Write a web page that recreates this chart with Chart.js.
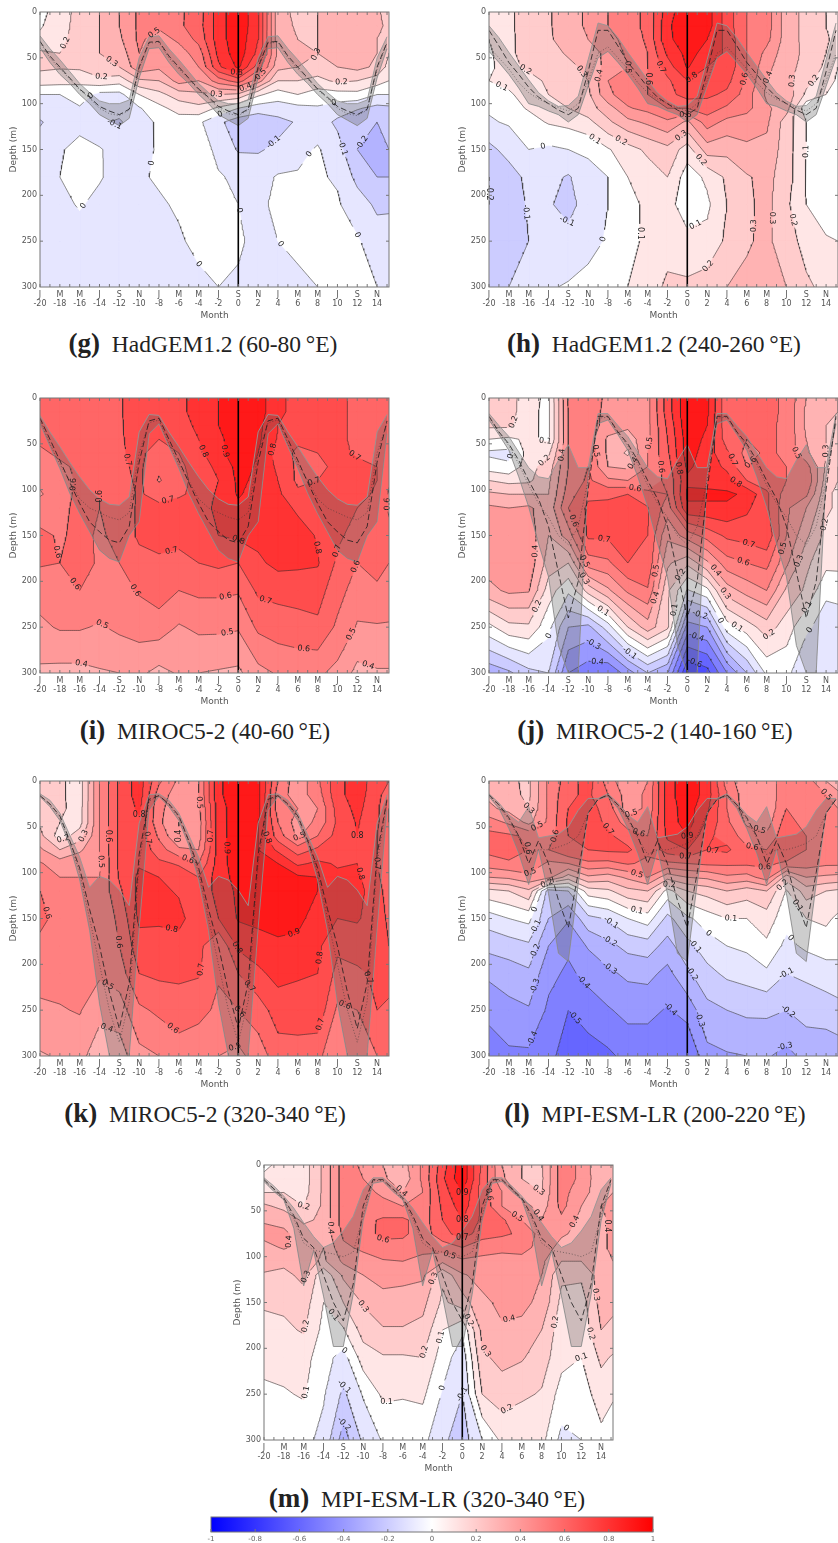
<!DOCTYPE html>
<html>
<head>
<meta charset="utf-8">
<script src="https://cdn.jsdelivr.net/npm/chart.js@4"></script>
<style>
  html, body { margin: 0; padding: 0; background: #fff; }
  #page { position: relative; width: 838px; height: 1543px; overflow: hidden; }
  canvas { position: absolute; filter: blur(0.4px); }
  .caption { position: absolute; width: 400px; text-align: center; font-family: "Liberation Serif", serif;
             font-size: 23.5px; line-height: 28px; color: #222; white-space: nowrap; }
  .caption b { font-size: 27px; }
</style>
</head>
<body>
<div id="page"></div>
<script>
// grid the anomaly fields were read on (month columns, depth rows)
const months = [-20, -18, -16, -14, -12, -10, -8, -6, -4, -2, 0, 2, 4, 6, 8, 10, 12, 14, 15.2];
const depths = [0, 15, 30, 45, 60, 75, 90, 105, 120, 150, 180, 210, 250, 300];
const monthLetters = ['J', 'M', 'M', 'J', 'S', 'N', 'J', 'M', 'M', 'J', 'S', 'N', 'J', 'M', 'M', 'J', 'S', 'N'];
const colorbarTicks = [-1, -0.8, -0.6, -0.4, -0.2, 0, 0.2, 0.4, 0.6, 0.8, 1];

// fields: one row per month column, values in hundredths
const g_field = [
  [8,9,12,22,22,15,0,-5,-11,-5,-5,-5,-5,-5],
  [13,15,17,20,21,14,0,-3,-5,-1,0,-3,-5,-6],
  [25,25,25,25,22,12,5,-1,-3,3,4,1,-5,-7],
  [30,30,30,30,28,17,-3,-7,-9,1,1,-3,-6,-7],
  [40,40,38,34,30,14,-3,-7,-11,-5,-4,-5,-6,-7],
  [52,52,52,50,47,28,10,-1,-5,-3,-1,-3,-5,-6],
  [50,52,45,45,42,30,17,7,2,1,1,-1,-4,-5],
  [58,58,52,45,47,44,25,14,5,2,2,1,-1,-4],
  [65,66,63,55,50,40,28,17,2,6,3,2,2,-2],
  [85,85,85,83,78,55,30,8,-8,-3,1,2,2,0],
  [98,98,97,96,92,65,28,0,-15,-11,-2,0,1,-1],
  [82,82,80,77,65,45,12,-5,-18,-11,-4,-2,-2,-3],
  [33,33,35,38,33,20,5,-5,-13,-8,1,2,0,-3],
  [28,29,30,32,30,20,10,-3,-9,-3,1,2,1,-1],
  [30,30,30,30,26,17,5,-1,-5,1,1,2,2,0],
  [33,33,33,32,30,22,6,-5,-12,-6,-1,1,2,1],
  [38,38,38,37,33,20,7,-9,-18,-20,-13,-5,1,2],
  [32,32,30,30,28,15,0,-13,-20,-22,-20,-12,-5,0],
  [25,28,28,20,16,10,0,-12,-17,-20,-20,-11,-7,-5]
];
const h_field = [
  [13,13,10,8,7,10,7,1,-1,-13,-20,-20,-15,-13],
  [18,18,18,18,17,12,9,6,1,-6,-15,-15,-13,-10],
  [25,25,24,24,22,16,13,11,6,0,-7,-9,-10,-7],
  [29,29,29,27,25,22,20,18,11,-2,-7,-9,-6,-1],
  [35,35,33,31,28,26,23,20,13,0,-11,-13,-7,1],
  [42,42,40,35,32,30,28,26,17,2,-4,-6,-3,3],
  [50,50,47,43,44,50,48,35,28,9,0,0,1,3],
  [55,55,53,52,50,52,55,49,37,16,10,7,7,10],
  [63,63,62,60,60,60,60,53,42,22,15,12,12,15],
  [85,88,88,82,75,68,66,60,48,27,20,14,16,22],
  [98,98,95,93,91,80,75,60,38,15,5,4,13,22],
  [95,95,90,87,80,74,72,65,55,35,12,8,13,25],
  [75,75,77,78,77,73,68,58,47,33,22,20,22,30],
  [60,60,60,60,60,58,55,53,45,38,29,28,29,32],
  [55,55,53,47,43,40,38,42,42,37,33,33,32,33],
  [35,35,35,34,33,33,37,34,25,25,25,22,25,30],
  [27,27,27,28,27,23,18,2,10,10,9,10,16,22],
  [20,20,22,20,18,15,10,3,5,5,5,5,11,17],
  [17,18,15,12,10,8,5,3,4,4,4,4,10,13]
];
const i_field = [
  [66,66,65,62,58,55,52,49,55,62,61,54,48,38],
  [68,68,67,65,62,58,55,55,58,59,60,56,51,37],
  [69,69,69,67,65,62,62,63,62,62,63,60,51,37],
  [69,69,69,68,65,63,61,60,60,59,59,57,49,39],
  [69,69,69,69,69,68,66,65,63,62,60,56,52,40],
  [75,75,74,73,72,72,72,71,72,72,66,61,54,42],
  [76,76,74,70,66,62,59,67,72,72,69,65,55,37],
  [78,78,76,72,70,68,67,69,73,72,68,60,49,41],
  [83,83,82,80,77,74,73,72,73,73,70,62,52,40],
  [90,90,90,88,88,83,80,82,84,80,72,62,52,39],
  [95,95,95,95,94,93,92,91,88,82,70,61,51,38],
  [95,95,93,92,90,89,88,86,85,83,78,72,62,47],
  [82,82,80,79,75,78,80,82,85,85,83,73,65,51],
  [77,77,75,72,68,68,68,72,78,85,82,74,66,53],
  [75,75,74,73,70,68,70,72,75,79,81,74,68,52],
  [72,72,72,72,72,72,72,72,72,72,68,64,58,47],
  [68,68,68,68,69,72,72,72,70,66,60,55,49,37],
  [70,70,70,70,70,70,70,69,66,65,62,59,49,39],
  [70,70,68,65,63,62,61,59,59,62,60,56,49,39]
];
const j_field = [
  [22,22,22,10,-2,5,20,32,42,45,45,37,7,-27],
  [25,25,22,8,-3,2,17,30,40,46,46,42,17,-22],
  [13,12,12,12,14,16,18,30,42,46,47,41,18,-13],
  [8,8,8,8,18,25,28,30,33,30,25,15,3,-10],
  [52,50,50,50,50,50,52,55,60,45,20,2,-20,-40],
  [55,55,55,55,58,60,62,68,72,72,55,24,-23,-46],
  [48,47,46,38,38,40,52,68,73,72,58,38,-5,-50],
  [43,43,42,35,28,38,50,70,75,75,70,52,20,-35],
  [47,47,47,47,50,50,55,62,71,70,68,59,35,-20],
  [75,75,72,70,68,65,62,60,55,42,32,22,22,-30],
  [98,98,97,95,95,92,88,92,88,55,22,-1,-35,-70],
  [93,92,90,88,85,85,87,92,88,64,38,7,-30,-64],
  [62,62,63,65,72,78,84,92,88,72,56,35,5,-40],
  [62,62,62,60,56,60,70,88,82,74,60,44,15,-20],
  [63,63,62,62,62,62,65,72,72,78,63,50,25,2],
  [58,58,58,58,58,60,60,55,52,50,42,28,15,3],
  [40,38,38,40,42,55,60,52,40,32,22,18,2,-10],
  [32,32,30,30,30,28,25,22,22,17,13,2,-5,-8],
  [30,30,28,25,22,20,20,18,18,17,13,3,-5,-8]
];
const k_field = [
  [25,25,26,28,33,42,51,53,60,63,57,54,48,39],
  [22,22,22,20,15,30,45,50,53,56,56,55,49,41],
  [15,15,16,16,25,38,48,50,53,55,55,55,51,41],
  [50,50,50,50,50,50,48,50,52,53,50,52,41,38],
  [72,72,72,72,72,72,72,71,68,62,60,55,45,35],
  [85,85,82,78,78,77,79,82,83,82,76,70,58,47],
  [62,55,52,52,58,65,72,80,82,82,75,72,62,50],
  [48,45,45,40,40,52,69,75,79,83,76,72,65,55],
  [50,50,48,45,46,50,60,70,72,74,73,71,63,53],
  [88,88,85,85,85,85,85,85,84,80,60,61,58,50],
  [97,97,97,97,97,97,96,94,92,91,82,70,60,47],
  [93,93,93,91,90,90,92,95,95,93,85,78,65,55],
  [60,55,55,60,65,78,90,96,95,94,88,83,75,65],
  [43,45,50,45,48,65,78,92,95,93,87,81,76,65],
  [58,55,50,52,60,72,82,90,90,85,82,80,77,63],
  [77,77,74,72,74,77,79,82,85,80,72,67,58,50],
  [85,85,83,81,80,80,80,82,83,81,75,68,60,52],
  [75,73,72,72,70,70,70,72,75,75,75,72,70,60],
  [70,65,60,60,62,64,65,63,64,68,70,72,69,62]
];
const l_field = [
  [35,38,42,55,63,63,55,40,17,-5,-17,-28,-37,-46],
  [32,33,37,48,62,66,58,42,20,0,-15,-25,-33,-42],
  [28,28,30,37,58,60,58,47,28,3,-12,-22,-31,-42],
  [52,52,52,52,55,60,48,43,-15,-20,-30,-37,-42,-46],
  [65,68,70,72,70,70,50,25,-10,-29,-38,-42,-50,-57],
  [75,72,75,75,72,70,58,38,15,-13,-29,-37,-45,-55],
  [55,60,65,68,72,72,57,35,18,-9,-23,-32,-41,-52],
  [42,45,45,55,65,72,61,42,27,0,-17,-28,-37,-47],
  [50,52,52,56,60,62,58,50,30,5,-15,-27,-37,-47],
  [85,85,85,84,82,75,58,34,6,-13,-24,-33,-41,-46],
  [98,98,95,95,90,80,60,40,20,-2,-13,-22,-36,-50],
  [85,85,82,78,72,70,62,42,24,5,-5,-13,-23,-33],
  [55,60,60,62,66,72,62,48,30,10,0,-8,-20,-31],
  [42,43,44,48,55,62,62,46,25,10,2,-6,-18,-30],
  [42,42,42,45,52,60,62,55,30,15,8,-2,-18,-29],
  [58,58,60,65,67,70,58,25,9,4,-3,-10,-20,-33],
  [55,52,52,55,60,60,55,40,25,10,2,-8,-16,-27],
  [40,50,55,60,60,58,52,38,20,12,5,-5,-15,-27],
  [35,42,50,58,60,57,52,37,18,8,2,-2,-14,-25]
];
const m_field = [
  [8,12,20,32,39,43,37,34,29,22,15,13,8,2],
  [13,14,20,27,37,42,41,33,27,22,18,14,9,3],
  [15,15,16,20,28,35,37,35,33,25,21,14,11,3],
  [32,32,32,32,32,33,30,28,12,10,7,4,1,-3],
  [55,55,55,55,55,52,48,42,32,20,9,-4,-12,-25],
  [48,50,55,55,58,57,52,46,40,31,24,15,1,-8],
  [40,42,47,55,61,62,57,49,43,37,29,19,12,1],
  [36,33,40,50,62,62,56,50,42,37,29,19,11,2],
  [52,52,50,53,55,55,52,48,42,33,27,20,12,3],
  [75,78,75,72,70,66,55,42,22,18,10,5,-1,-8],
  [97,98,90,85,80,75,60,48,39,25,2,-6,-10,-15],
  [68,66,65,68,68,65,53,48,43,38,33,28,20,0],
  [40,42,50,50,62,62,52,47,45,42,39,33,25,12],
  [30,30,35,45,50,58,52,48,45,42,38,31,22,10],
  [29,28,30,35,40,46,48,42,40,38,30,25,19,13],
  [55,55,55,53,48,42,35,30,22,17,14,13,6,-3],
  [48,48,42,40,37,36,35,30,22,15,13,10,5,0],
  [30,32,37,40,38,38,38,37,35,34,30,22,15,7],
  [30,33,40,43,42,42,42,40,37,33,27,19,11,5]
];

// mixed layer depth climatology J F M A M J J A S O N D: shallow edge, deep edge, mean, other estimate
const g_mld_top = [26, 40, 52, 65, 78, 88, 97, 100, 100, 96, 50, 27];
const g_mld_bot = [39, 55, 68, 78, 90, 100, 112, 118, 124, 116, 72, 40];
const g_mld_mean = [32, 48, 60, 72, 84, 93, 103, 108, 112, 106, 60, 33];
const g_mld_alt = [33, 50, 62, 73, 85, 94, 105, 111, 113, 107, 62, 34];
const h_mld_top = [15, 28, 44, 59, 74, 88, 97, 103, 102, 92, 52, 12];
const h_mld_bot = [43, 55, 68, 83, 100, 103, 108, 112, 120, 112, 81, 50];
const h_mld_mean = [20, 37, 55, 68, 82, 93, 100, 107, 112, 105, 65, 20];
const h_mld_alt = [38, 50, 62, 77, 88, 95, 100, 104, 108, 100, 75, 45];
const i_mld_top = [19, 37, 53, 70, 86, 100, 110, 116, 117, 108, 37, 18];
const i_mld_bot = [28, 53, 77, 104, 126, 146, 166, 175, 179, 150, 135, 39];
const i_mld_mean = [22, 45, 68, 92, 115, 135, 146, 155, 158, 140, 70, 25];
const i_mld_alt = [24, 50, 72, 90, 110, 120, 125, 130, 133, 125, 60, 27];
const j_mld_top = [17, 30, 42, 59, 76, 86, 88, 68, 51, 76, 76, 17];
const j_mld_bot = [24, 40, 57, 86, 119, 159, 195, 270, 300, 300, 85, 28];
const j_mld_mean = [20, 37, 50, 68, 90, 110, 140, 190, 240, 200, 100, 20];
const j_mld_alt = [21, 38, 52, 72, 95, 115, 130, 150, 160, 140, 90, 22];
const k_mld_top = [14, 21, 35, 59, 83, 116, 104, 108, 119, 136, 46, 15];
const k_mld_bot = [17, 28, 43, 70, 108, 163, 243, 300, 300, 300, 160, 32];
const k_mld_mean = [16, 25, 38, 65, 95, 140, 180, 230, 270, 220, 80, 20];
const k_mld_alt = [16, 26, 40, 66, 100, 150, 200, 250, 285, 240, 90, 22];
const l_mld_top = [14, 24, 37, 45, 28, 62, 60, 58, 50, 32, 19, 19];
const l_mld_bot = [17, 30, 52, 79, 113, 75, 123, 188, 197, 112, 35, 20];
const l_mld_mean = [15, 26, 40, 60, 90, 65, 90, 130, 160, 100, 35, 20];
const l_mld_alt = [16, 28, 42, 62, 80, 75, 75, 72, 68, 60, 35, 20];
const m_mld_top = [14, 23, 34, 47, 63, 78, 90, 85, 72, 56, 27, 14];
const m_mld_bot = [18, 29, 38, 69, 132, 94, 143, 198, 198, 141, 61, 20];
const m_mld_mean = [16, 26, 36, 55, 80, 90, 120, 150, 170, 130, 45, 16];
const m_mld_alt = [17, 27, 38, 58, 85, 93, 95, 97, 100, 95, 55, 17];

const plotW = 349, plotH = 275;
const pxMonth = plotW / 35.2, pxMetre = plotH / 300;

const panels = [
  { id: 'g', name: 'HadGEM1.2 (60-80&thinsp;°E)', left: 40, top: 12, field: g_field, mld: [g_mld_top, g_mld_bot, g_mld_mean, g_mld_alt], capX: 203, capY: 343 },
  { id: 'h', name: 'HadGEM1.2 (240-260&thinsp;°E)', left: 489, top: 12, field: h_field, mld: [h_mld_top, h_mld_bot, h_mld_mean, h_mld_alt], capX: 654, capY: 343 },
  { id: 'i', name: 'MIROC5-2 (40-60&thinsp;°E)', left: 40, top: 398, field: i_field, mld: [i_mld_top, i_mld_bot, i_mld_mean, i_mld_alt], capX: 205, capY: 730 },
  { id: 'j', name: 'MIROC5-2 (140-160&thinsp;°E)', left: 489, top: 398, field: j_field, mld: [j_mld_top, j_mld_bot, j_mld_mean, j_mld_alt], capX: 655, capY: 730 },
  { id: 'k', name: 'MIROC5-2 (320-340&thinsp;°E)', left: 40, top: 781, field: k_field, mld: [k_mld_top, k_mld_bot, k_mld_mean, k_mld_alt], capX: 205, capY: 1113 },
  { id: 'l', name: 'MPI-ESM-LR (200-220&thinsp;°E)', left: 489, top: 781, field: l_field, mld: [l_mld_top, l_mld_bot, l_mld_mean, l_mld_alt], capX: 655, capY: 1113 },
  { id: 'm', name: 'MPI-ESM-LR (320-340&thinsp;°E)', left: 264, top: 1165, field: m_field, mld: [m_mld_top, m_mld_bot, m_mld_mean, m_mld_alt], capX: 427, capY: 1498 }
];

const page = document.getElementById('page');

// blue-white-red colour of the band starting at level
function bandColor(level) {
  const c = Math.round(255 * (1 - Math.abs(level)));
  return level >= 0 ? `rgb(255,${c},${c})` : `rgb(${c},${c},255)`;
}

// keep the part of a cell polygon where value >= level
function clipCell(poly, level) {
  const out = [];
  for (let k = 0; k < poly.length; k++) {
    const p = poly[k], q = poly[(k + 1) % poly.length];
    if (p[2] >= level) out.push(p);
    if ((p[2] >= level) !== (q[2] >= level)) {
      const t = (level - p[2]) / (q[2] - p[2]);
      out.push([p[0] + t * (q[0] - p[0]), p[1] + t * (q[1] - p[1]), level]);
    }
  }
  return out;
}

// marching squares, returns line pieces for one level
function levelSegments(field, level) {
  const segs = [];
  const cross = (p, q) => {
    const t = (level - p[2]) / (q[2] - p[2]);
    return [p[0] + t * (q[0] - p[0]), p[1] + t * (q[1] - p[1])];
  };
  for (let i = 0; i < months.length - 1; i++) {
    for (let j = 0; j < depths.length - 1; j++) {
      const a = [months[i], depths[j], field[i][j]];
      const b = [months[i + 1], depths[j], field[i + 1][j]];
      const c = [months[i + 1], depths[j + 1], field[i + 1][j + 1]];
      const d = [months[i], depths[j + 1], field[i][j + 1]];
      const edge = [[a, b], [b, c], [c, d], [d, a]].map(([p, q]) =>
        (p[2] >= level) !== (q[2] >= level) ? cross(p, q) : null);
      const hits = edge.filter(e => e);
      if (hits.length === 2) {
        segs.push(hits);
      } else if (hits.length === 4) {
        const centre = (a[2] + b[2] + c[2] + d[2]) / 4;
        if ((centre >= level) === (a[2] >= level)) {
          segs.push([edge[0], edge[1]], [edge[2], edge[3]]);
        } else {
          segs.push([edge[3], edge[0]], [edge[1], edge[2]]);
        }
      }
    }
  }
  return segs;
}

// join the pieces into running chains
function linkSegments(segs) {
  const key = p => p[0].toFixed(5) + ',' + p[1].toFixed(5);
  const ends = new Map();
  segs.forEach((s, n) => s.forEach(p => {
    if (!ends.has(key(p))) ends.set(key(p), []);
    ends.get(key(p)).push(n);
  }));
  const used = new Set();
  const walk = (start, first) => {
    const chain = [first];
    let n = start, cur = first;
    while (n !== undefined) {
      used.add(n);
      const s = segs[n];
      const next = key(s[0]) === key(cur) ? s[1] : s[0];
      chain.push(next);
      cur = next;
      n = ends.get(key(cur)).find(m => !used.has(m));
    }
    return chain;
  };
  const chains = [];
  segs.forEach((s, n) => {
    if (used.has(n)) return;
    const open = s.find(p => ends.get(key(p)).length === 1);
    if (open) chains.push(walk(n, open));
  });
  segs.forEach((s, n) => {
    if (!used.has(n)) chains.push(walk(n, s[0]));
  });
  return chains;
}

function levelText(i) {
  return i === 0 ? '0' : (i / 10).toFixed(1);
}

// contour datasets with a gap where each label sits
function buildContours(field) {
  const datasets = [], labels = [];
  for (let i = -9; i <= 9; i++) {
    const level = i / 10 + 1e-6;
    const data = [];
    linkSegments(levelSegments(field, level)).forEach(chain => {
      const pts = [];
      for (let k = 0; k < chain.length - 1; k++) {
        const p = chain[k], q = chain[k + 1];
        const len = Math.hypot((q[0] - p[0]) * pxMonth, (q[1] - p[1]) * pxMetre);
        const steps = Math.max(1, Math.ceil(len / 2));
        for (let s = 0; s < steps; s++) {
          pts.push([p[0] + (q[0] - p[0]) * s / steps, p[1] + (q[1] - p[1]) * s / steps]);
        }
      }
      pts.push(chain[chain.length - 1]);
      const dist = [0];
      for (let k = 1; k < pts.length; k++) {
        dist.push(dist[k - 1] + Math.hypot((pts[k][0] - pts[k - 1][0]) * pxMonth, (pts[k][1] - pts[k - 1][1]) * pxMetre));
      }
      const total = dist[dist.length - 1];
      const stops = [];
      if (total > 24) {
        const count = Math.max(1, Math.floor(total / 105));
        for (let n = 0; n < count; n++) {
          const want = (n + 0.5) * total / count;
          const at = dist.findIndex(v => v >= want);
          const p = pts[at];
          const clash = labels.some(l => Math.hypot((l.x - p[0]) * pxMonth, (l.y - p[1]) * pxMetre) < 17);
          if (clash || p[1] < 8 || p[1] > 292) continue;
          const a = pts[Math.max(0, at - 3)], b = pts[Math.min(pts.length - 1, at + 3)];
          let angle = Math.atan2((b[1] - a[1]) * pxMetre, (b[0] - a[0]) * pxMonth);
          if (angle > Math.PI / 2) angle -= Math.PI;
          if (angle < -Math.PI / 2) angle += Math.PI;
          labels.push({ x: p[0], y: p[1], angle, text: levelText(i) });
          stops.push(want);
        }
      }
      pts.forEach((p, k) => {
        if (stops.some(s => Math.abs(dist[k] - s) < 8)) {
          if (data.length && !isNaN(data[data.length - 1].x)) data.push({ x: NaN, y: NaN });
        } else {
          data.push({ x: p[0], y: p[1] });
        }
      });
      data.push({ x: NaN, y: NaN });
    });
    datasets.push({
      label: 'contour ' + levelText(i),
      data,
      showLine: true,
      pointRadius: 0,
      borderColor: 'rgba(45,45,45,0.8)',
      borderWidth: 0.7
    });
  }
  return { datasets, labels };
}

// the 12 month climatology runs three times from month -20
function overMonths(values) {
  const pts = [];
  for (let n = 0; n < 36; n++) pts.push({ x: n - 20, y: values[n % 12] });
  return pts;
}

function makePanel(panel) {
  const canvas = document.createElement('canvas');
  canvas.width = plotW + 40 + 1;
  canvas.height = plotH + 12 + 34;
  canvas.style.left = (panel.left - 40) + 'px';
  canvas.style.top = (panel.top - 12) + 'px';
  page.appendChild(canvas);

  const field = panel.field.map(col => col.map(v => v / 100));
  const contours = buildContours(field);

  const bandFill = {
    id: 'bandFill',
    beforeDatasetsDraw(chart) {
      const { ctx, chartArea, scales: { x, y } } = chart;
      ctx.save();
      ctx.beginPath();
      ctx.rect(chartArea.left, chartArea.top, chartArea.width, chartArea.height);
      ctx.clip();
      ctx.lineWidth = 0.6;
      for (let n = -10; n <= 9; n++) {
        const level = n === -10 ? -9 : n / 10 + 1e-6;
        ctx.beginPath();
        for (let i = 0; i < months.length - 1; i++) {
          for (let j = 0; j < depths.length - 1; j++) {
            const cell = [
              [months[i], depths[j], field[i][j]],
              [months[i + 1], depths[j], field[i + 1][j]],
              [months[i + 1], depths[j + 1], field[i + 1][j + 1]],
              [months[i], depths[j + 1], field[i][j + 1]]
            ];
            const poly = clipCell(cell, level);
            poly.forEach((p, k) => {
              const px = x.getPixelForValue(p[0]), py = y.getPixelForValue(p[1]);
              if (k === 0) ctx.moveTo(px, py); else ctx.lineTo(px, py);
            });
            if (poly.length) ctx.closePath();
          }
        }
        ctx.fillStyle = ctx.strokeStyle = bandColor(n / 10);
        ctx.fill();
        ctx.stroke();
      }
      ctx.restore();
    },
    afterDatasetsDraw(chart) {
      const { ctx, chartArea, scales: { x, y } } = chart;
      ctx.save();
      // contour labels
      ctx.font = '8px "DejaVu Sans"';
      ctx.fillStyle = '#222';
      ctx.textAlign = 'center';
      ctx.textBaseline = 'middle';
      contours.labels.forEach(l => {
        ctx.save();
        ctx.translate(x.getPixelForValue(l.x), y.getPixelForValue(l.y));
        ctx.rotate(l.angle);
        ctx.fillText(l.text, 0, 0);
        ctx.restore();
      });
      // frame and inward ticks
      ctx.strokeStyle = '#777';
      ctx.lineWidth = 1;
      ctx.strokeRect(chartArea.left, chartArea.top, chartArea.width, chartArea.height);
      ctx.beginPath();
      for (let m = -20; m <= 15; m++) {
        const px = x.getPixelForValue(m);
        ctx.moveTo(px, chartArea.top);
        ctx.lineTo(px, chartArea.top + 3);
        ctx.moveTo(px, chartArea.bottom);
        ctx.lineTo(px, chartArea.bottom - 3);
      }
      for (let d = 50; d < 300; d += 50) {
        const py = y.getPixelForValue(d);
        ctx.moveTo(chartArea.left, py);
        ctx.lineTo(chartArea.left + 3, py);
        ctx.moveTo(chartArea.right, py);
        ctx.lineTo(chartArea.right - 3, py);
      }
      ctx.stroke();
      ctx.restore();
    }
  };

  const [mldTop, mldBot, mldMean, mldAlt] = panel.mld;
  new Chart(canvas.getContext('2d'), {
    type: 'scatter',
    data: {
      datasets: [
        { label: 'month 0', data: [{ x: 0, y: 0 }, { x: 0, y: 300 }], showLine: true, pointRadius: 0, borderColor: '#000', borderWidth: 1.6 },
        { label: 'MLD mean', data: overMonths(mldMean), showLine: true, pointRadius: 0, borderColor: 'rgba(30,30,30,0.9)', borderWidth: 0.9, borderDash: [6, 3] },
        { label: 'MLD other', data: overMonths(mldAlt), showLine: true, pointRadius: 0, borderColor: 'rgba(50,50,50,0.7)', borderWidth: 0.8, borderDash: [1, 2] },
        { label: 'MLD shallow', data: overMonths(mldTop), showLine: true, pointRadius: 0, borderColor: 'rgba(150,150,150,0.9)', borderWidth: 1, fill: '+1', backgroundColor: 'rgba(90,90,90,0.3)' },
        { label: 'MLD deep', data: overMonths(mldBot), showLine: true, pointRadius: 0, borderColor: 'rgba(150,150,150,0.9)', borderWidth: 1 },
        ...contours.datasets
      ]
    },
    options: {
      responsive: false,
      animation: false,
      events: [],
      layout: { padding: { top: 12, right: 1 } },
      plugins: { legend: { display: false }, tooltip: { enabled: false } },
      scales: {
        x: {
          type: 'linear',
          min: -20,
          max: 15.2,
          afterFit(s) { s.height = 34; },
          afterBuildTicks(s) { s.ticks = monthLetters.map((_, n) => ({ value: n * 2 - 20 })); },
          grid: { display: false, drawTicks: false },
          border: { display: false },
          ticks: {
            autoSkip: false,
            maxRotation: 0,
            padding: 4,
            color: '#555',
            font: { family: 'DejaVu Sans', size: 8, lineHeight: 1.05 },
            callback: v => [monthLetters[(v + 20) / 2], String(v)]
          },
          title: { display: true, text: 'Month', color: '#555', font: { family: 'DejaVu Sans', size: 9, lineHeight: 1.2 }, padding: 0 }
        },
        y: {
          type: 'linear',
          reverse: true,
          min: 0,
          max: 300,
          afterFit(s) { s.width = 40; },
          grid: { display: false, drawTicks: false },
          border: { display: false },
          ticks: { stepSize: 50, padding: 3, color: '#555', font: { family: 'DejaVu Sans', size: 8 } },
          title: { display: true, text: 'Depth (m)', color: '#555', font: { family: 'DejaVu Sans', size: 9, lineHeight: 1.2 }, padding: { top: 8, bottom: 0 } }
        }
      }
    },
    plugins: [bandFill]
  });

  const cap = document.createElement('div');
  cap.className = 'caption';
  cap.innerHTML = `<b>(${panel.id})</b>&ensp;${panel.name}`;
  cap.style.left = (panel.capX - 200) + 'px';
  cap.style.top = (panel.capY - 14) + 'px';
  page.appendChild(cap);
}

panels.forEach(makePanel);

// colour bar as one floating bar over the -1..1 axis
function makeColorbar() {
  const canvas = document.createElement('canvas');
  canvas.width = 462;
  canvas.height = 32;
  canvas.style.left = '201px';
  canvas.style.top = '1511px';
  page.appendChild(canvas);
  new Chart(canvas.getContext('2d'), {
    type: 'bar',
    data: {
      labels: ['anomaly'],
      datasets: [{
        data: [[-1, 1]],
        barPercentage: 1,
        categoryPercentage: 1,
        backgroundColor(c) {
          const area = c.chart.chartArea;
          if (!area) return '#fff';
          const g = c.chart.ctx.createLinearGradient(area.left, 0, area.right, 0);
          g.addColorStop(0, 'rgb(0,0,255)');
          g.addColorStop(0.5, 'rgb(255,255,255)');
          g.addColorStop(1, 'rgb(255,0,0)');
          return g;
        }
      }]
    },
    options: {
      indexAxis: 'y',
      responsive: false,
      animation: false,
      events: [],
      layout: { padding: { top: 6, left: 10, right: 10 } },
      plugins: { legend: { display: false }, tooltip: { enabled: false } },
      scales: {
        x: {
          type: 'linear',
          min: -1,
          max: 1,
          afterFit(s) { s.height = 11; },
          afterBuildTicks(s) { s.ticks = colorbarTicks.map(v => ({ value: v })); },
          grid: { display: false, drawTicks: false },
          border: { display: false },
          ticks: { autoSkip: false, maxRotation: 0, padding: 3, color: '#666', font: { family: 'DejaVu Sans', size: 7 }, callback: v => String(v) }
        },
        y: { display: false }
      }
    },
    plugins: [{
      id: 'barFrame',
      afterDatasetsDraw(chart) {
        const { ctx, chartArea, scales: { x } } = chart;
        ctx.save();
        ctx.strokeStyle = '#777';
        ctx.strokeRect(chartArea.left, chartArea.top, chartArea.width, chartArea.height);
        ctx.beginPath();
        colorbarTicks.forEach(v => {
          const px = x.getPixelForValue(v);
          ctx.moveTo(px, chartArea.bottom);
          ctx.lineTo(px, chartArea.bottom - 3);
        });
        ctx.stroke();
        ctx.restore();
      }
    }]
  });
}
makeColorbar();
</script>
</body>
</html>
